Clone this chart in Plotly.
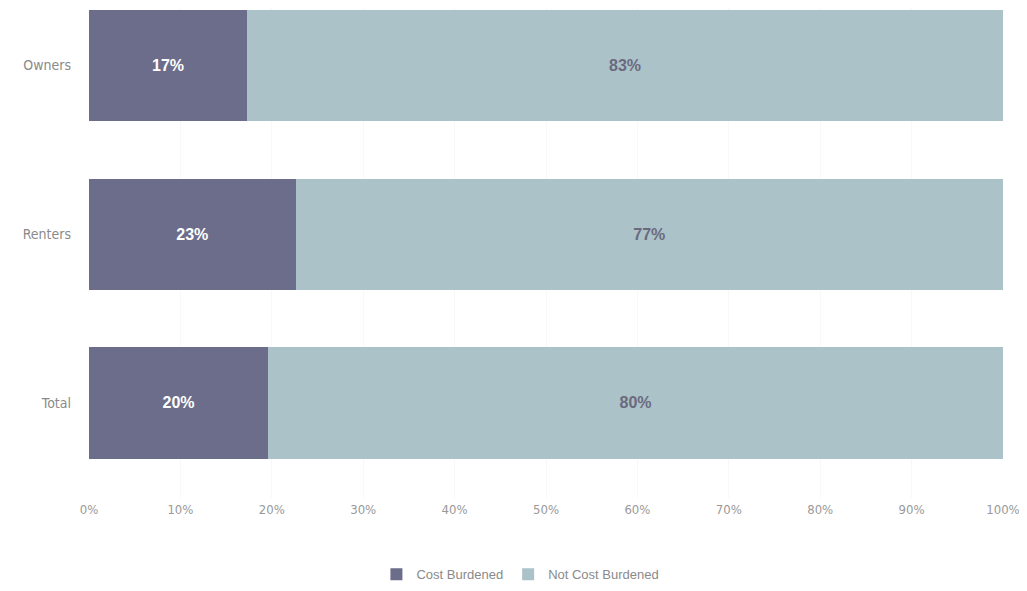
import plotly.graph_objects as go

categories = ["Total", "Renters", "Owners"]
cost_burdened = [19.6, 22.6, 17.3]
not_cost_burdened = [80.4, 77.4, 82.7]
tick_vals = [0, 10, 20, 30, 40, 50, 60, 70, 80, 90, 100]
tick_text = ["0%", "10%", "20%", "30%", "40%", "50%", "60%", "70%", "80%", "90%", "100%"]

fig = go.Figure()
fig.add_trace(go.Bar(
    y=categories, x=cost_burdened, orientation="h", name="Cost Burdened",
    marker=dict(color="#6b6d8a", line=dict(width=0)),
    texttemplate="%{x:.0f}%", textposition="inside", insidetextanchor="middle",
    textfont=dict(color="white", size=16, family="Liberation Sans", weight="bold"),
))
fig.add_trace(go.Bar(
    y=categories, x=not_cost_burdened, orientation="h", name="Not Cost Burdened",
    marker=dict(color="#acc2c9", line=dict(width=0)),
    texttemplate="%{x:.0f}%", textposition="inside", insidetextanchor="middle",
    textfont=dict(color="#6a6a7e", size=16, family="Liberation Sans", weight="bold"),
))

fig.update_layout(
    width=1019, height=583,
    barmode="stack", bargap=0.342,
    margin=dict(l=81, r=24, t=0, b=93, autoexpand=False),
    paper_bgcolor="white", plot_bgcolor="white",
    font=dict(family="DejaVu Sans Condensed, Liberation Sans Narrow, Liberation Sans, Arial",
              color="#999999", size=13),
    showlegend=True,
    legend=dict(orientation="h", x=0.472, xanchor="center", y=-0.125, yanchor="top",
                font=dict(size=13, color="#8a8a8a", family="Liberation Sans, Arial"),
                traceorder="normal", itemwidth=30),
    uniformtext=dict(mode="show", minsize=16),
)
fig.update_xaxes(range=[0, 100], tickvals=tick_vals, ticktext=tick_text,
                 showgrid=True, gridcolor="#f8f8f8", zeroline=False, showline=False,
                 ticks="", ticklabelstandoff=2, fixedrange=True)
fig.update_yaxes(range=[-0.563, 2.3407], showgrid=False, zeroline=False, showline=False,
                 ticks="", ticklabelstandoff=17, fixedrange=True,
                 tickfont=dict(color="#8a8a8a", size=14))

fig.write_html("out.html")
